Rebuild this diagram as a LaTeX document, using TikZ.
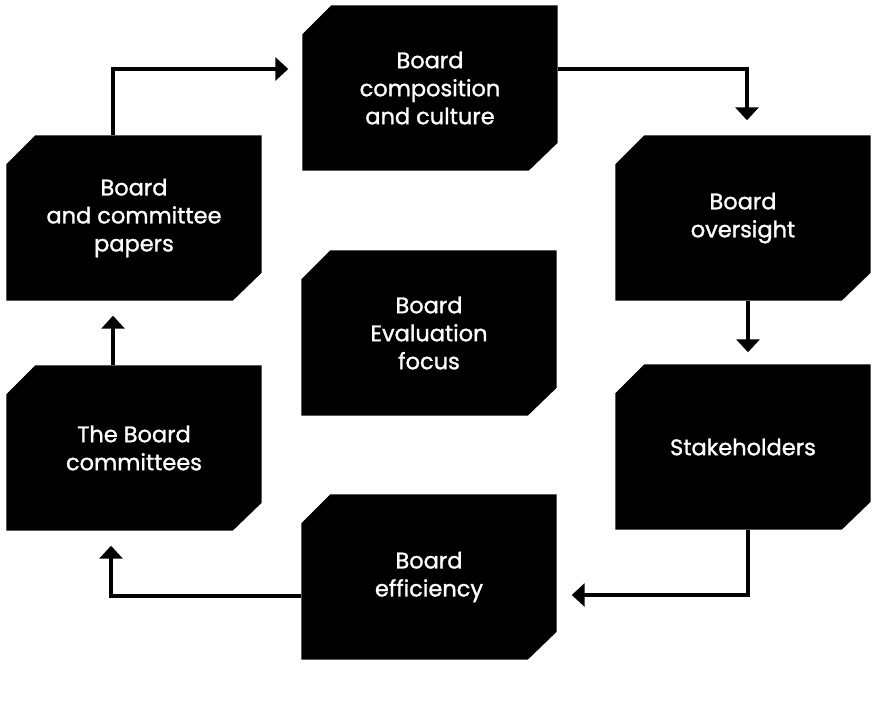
\documentclass[tikz,border=0pt]{standalone}
\usepackage{fontspec}
\setmainfont{Poppins}
\newfontfamily\boxfont{Poppins}[FakeBold=1.2]
\usetikzlibrary{arrows.meta,backgrounds}
\begin{document}
\begin{tikzpicture}[x=1pt,y=-1pt,
  boxnode/.style={rectangle,minimum width=255pt,minimum height=165pt,inner sep=0pt,
    text=white,align=center,font=\boxfont\fontsize{22.5}{28}\selectfont},
  flow/.style={line width=3.5pt,-{Triangle[width=23pt,length=13pt]},shorten >=14pt}]
\useasboundingbox (0,0) rectangle (874,725);
\node[boxnode] (comp) at (430,88) {Board\\composition\\and culture};
\node[boxnode] (papers) at (134,218) {Board\\and committee\\papers};
\node[boxnode] (over) at (743,218) {Board\\oversight};
\node[boxnode] (stake) at (743,447) {Stakeholders};
\node[boxnode] (eff) at (429,577) {Board\\efficiency};
\node[boxnode] (comm) at (134,448) {The Board\\committees};
\node[boxnode] (eval) at (429,333) {Board\\Evaluation\\focus};
\begin{scope}[on background layer]
\foreach \n in {comp,papers,over,stake,eff,comm,eval}{
  \fill[black] ([xshift=29pt]\n.north west) -- (\n.north east)
    -- ([yshift=28pt]\n.south east) -- ([xshift=-29pt]\n.south east)
    -- (\n.south west) -- ([yshift=-29pt]\n.north west) -- cycle;
}
\end{scope}
\draw[flow] ([xshift=-21pt]papers.north) |- ([yshift=19pt]comp.west);
\draw[flow,shorten >=15pt] ([yshift=19pt]comp.east) -| ([xshift=4pt]over.north);
\draw[flow,shorten >=12pt] ([xshift=5pt]over.south) -- ([xshift=5pt]stake.north);
\draw[flow,shorten >=15pt] ([xshift=5pt]stake.south) |- ([yshift=-18pt]eff.east);
\draw[flow,shorten >=15pt] ([yshift=-19pt]eff.west) -| ([xshift=-23pt]comm.south);
\draw[flow,shorten >=15pt] ([xshift=-21pt]comm.north) -- ([xshift=-21pt]papers.south);
\end{tikzpicture}
\end{document}
